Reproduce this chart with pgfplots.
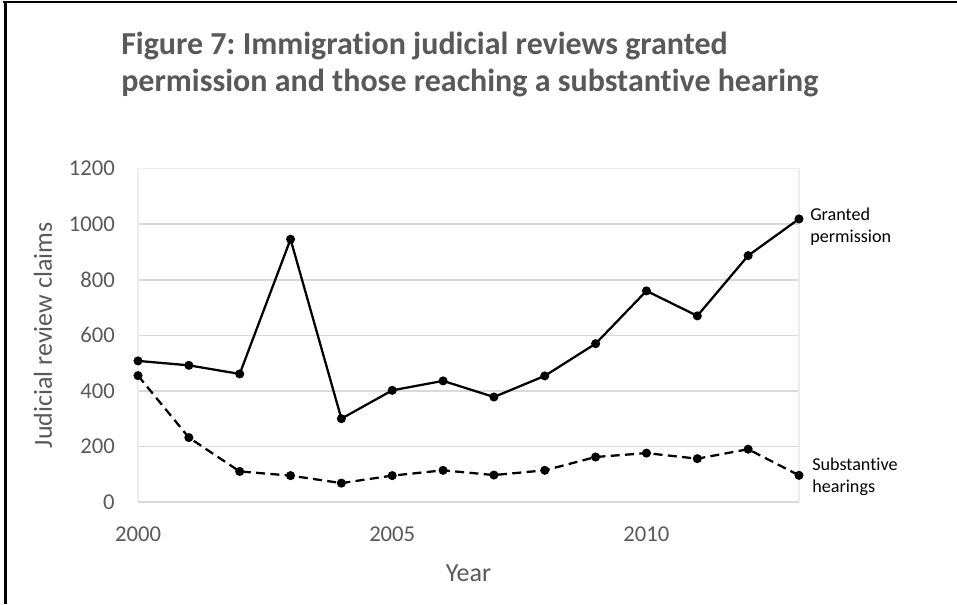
\documentclass[border=0pt]{standalone}
\usepackage{pgfplots}
\pgfplotsset{compat=1.18}
\usepackage{fontspec}
\setmainfont{Carlito}[Ligatures=NoCommon]
\frenchspacing
\definecolor{txt}{HTML}{595959}
\definecolor{gridc}{HTML}{D9D9D9}
\definecolor{boxc}{HTML}{EDEDED}
\begin{document}
\begin{tikzpicture}
\useasboundingbox (0,0) rectangle (717.75pt,453pt);
\draw[black, line width=2.25pt] (3.75pt,0) -- (3.75pt,451.5pt);
\draw[black, line width=1.2pt] (2.6pt,451.5pt) -- (717.75pt,451.5pt);
\node[anchor=base west, inner sep=0pt, text=txt,
      font=\fontsize{24pt}{28pt}\selectfont\bfseries]
  at (90.75pt,411.75pt) {Figure 7: Immigration judicial reviews granted};
\node[anchor=base west, inner sep=0pt, text=txt,
      font=\fontsize{24pt}{28pt}\selectfont\bfseries]
  at (90.75pt,384pt) {permission and those reaching a substantive hearing};
\begin{axis}[
  at={(103.5pt,76.5pt)}, anchor=south west,
  scale only axis, width=495.75pt, height=250pt,
  xmin=2000, xmax=2013, ymin=0, ymax=1200,
  xtick={2000,2005,2010}, ytick={0,200,...,1200},
  xticklabels={2000,2005,2010},
  major tick length=0pt,
  axis line style={draw=none},
  ymajorgrids, grid style={draw=gridc, line width=1.1pt},
  clip=false,
  /pgf/number format/assume math mode=true,
  /pgf/number format/1000 sep={},
  tick label style={text=txt, font=\fontsize{17pt}{20pt}\selectfont, inner sep=0pt},
  yticklabel style={anchor=east, xshift=-17.25pt},
  xticklabel style={anchor=north, yshift=-18.75pt},
  xlabel={Year}, ylabel={Judicial review claims},
  label style={text=txt, font=\fontsize{19.5pt}{23pt}\selectfont},
  xlabel style={at={(axis description cs:0.5,-0.2126)}, anchor=center},
  ylabel style={at={(axis description cs:-0.1437,0.5)}, anchor=center},
]
\draw[boxc, line width=1.1pt] (rel axis cs:0,0) -- (rel axis cs:0,1) -- (rel axis cs:1,1) -- (rel axis cs:1,0);
\draw[gridc, line width=1.1pt] (rel axis cs:0,0) -- (rel axis cs:1,0);
\addplot[black, line width=1.7pt, mark=*, mark size=2.5pt, mark options={solid}] coordinates {
(2000,508) (2001,492) (2002,461) (2003,946) (2004,300) (2005,402) (2006,436)
(2007,378) (2008,454) (2009,570) (2010,760) (2011,670) (2012,887) (2013,1019)};
\addplot[black, line width=1.7pt, dash pattern=on 6.75pt off 4pt, mark=*, mark size=2.5pt, mark options={solid}] coordinates {
(2000,455) (2001,232) (2002,110) (2003,95) (2004,68) (2005,95) (2006,114)
(2007,97) (2008,114) (2009,162) (2010,176) (2011,156) (2012,190) (2013,96)};
\node[anchor=base west, inner sep=0pt, font=\fontsize{13.6pt}{16pt}\selectfont] at (axis cs:2013,1019) [xshift=8.25pt, yshift=-1pt] {Granted};
\node[anchor=base west, inner sep=0pt, font=\fontsize{13.6pt}{16pt}\selectfont] at (axis cs:2013,1019) [xshift=8.25pt, yshift=-17.5pt] {permission};
\node[anchor=base west, inner sep=0pt, font=\fontsize{13.6pt}{16pt}\selectfont] at (axis cs:2013,96) [xshift=9.75pt, yshift=3.75pt] {Substantive};
\node[anchor=base west, inner sep=0pt, font=\fontsize{13.6pt}{16pt}\selectfont] at (axis cs:2013,96) [xshift=9.75pt, yshift=-12.75pt] {hearings};
\end{axis}
\end{tikzpicture}
\end{document}
